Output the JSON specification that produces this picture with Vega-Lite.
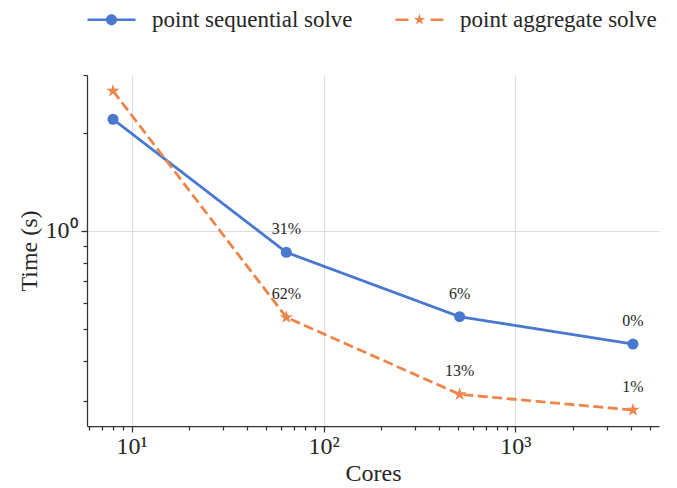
{
  "$schema": "https://vega.github.io/schema/vega-lite/v6.json",
  "width": 572,
  "height": 351,
  "autosize": "none",
  "padding": {"left": 87, "top": 75, "right": 18, "bottom": 62},
  "background": "white",
  "config": {
    "view": {"stroke": null},
    "font": "Liberation Serif",
    "axis": {
      "labelFont": "Liberation Serif",
      "titleFont": "Liberation Serif",
      "labelFontSize": 24,
      "titleFontSize": 24,
      "titleFontWeight": "normal",
      "labelColor": "#262626",
      "titleColor": "#262626",
      "domainColor": "#333333",
      "tickColor": "#333333",
      "gridColor": "#dddddd",
      "gridWidth": 1,
      "domainWidth": 1.25,
      "tickWidth": 1.25
    },
    "legend": {
      "orient": "none",
      "legendX": 13,
      "legendY": -67,
      "direction": "horizontal",
      "columns": 2,
      "title": null,
      "labelFont": "Liberation Serif",
      "labelFontSize": 23,
      "labelColor": "#262626",
      "labelLimit": 500,
      "symbolSize": 100,
      "symbolOpacity": 1,
      "labelOffset": 29,
      "columnPadding": 39,
      "padding": 0
    }
  },
  "data": {
    "values": [
      {"series": "point sequential solve", "cores": 8, "time": 2.201, "label": ""},
      {"series": "point sequential solve", "cores": 64, "time": 0.860, "label": "31%"},
      {"series": "point sequential solve", "cores": 512, "time": 0.5458, "label": "6%"},
      {"series": "point sequential solve", "cores": 4096, "time": 0.450, "label": "0%"},
      {"series": "point aggregate solve", "cores": 8, "time": 2.688, "label": ""},
      {"series": "point aggregate solve", "cores": 64, "time": 0.5435, "label": "62%"},
      {"series": "point aggregate solve", "cores": 512, "time": 0.3155, "label": "13%"},
      {"series": "point aggregate solve", "cores": 4096, "time": 0.2824, "label": "1%"}
    ]
  },
  "layer": [
    {
      "mark": {"type": "line", "strokeWidth": 2.8},
      "encoding": {
        "x": {
          "field": "cores", "type": "quantitative",
          "scale": {"type": "log", "domain": [5.856, 5597], "nice": false},
          "axis": {"orient": "bottom", "values": [6, 7, 8, 9, 20, 30, 40, 50, 60, 70, 80, 90, 200, 300, 400, 500, 600, 700, 800, 900, 2000, 3000, 4000, 5000], "labels": false, "grid": false, "domain": false, "tickSize": 4, "title": null}
        },
        "y": {
          "field": "time", "type": "quantitative",
          "scale": {"type": "log", "domain": [0.2523, 3.008], "nice": false},
          "axis": {"orient": "left", "values": [0.3, 0.4, 0.5, 0.6, 0.7, 0.8, 0.9, 2, 3], "labels": false, "grid": false, "domain": false, "tickSize": 4, "title": null}
        },
        "color": {"field": "series", "type": "nominal", "scale": {"domain": ["point sequential solve", "point aggregate solve"], "range": ["#4878d0", "#ee854a"]}, "legend": null},
        "strokeDash": {"field": "series", "type": "nominal", "scale": {"domain": ["point sequential solve", "point aggregate solve"], "range": [[1, 0], [10, 4.5]]}, "legend": null}
      }
    },
    {
      "transform": [{"filter": "datum.series == 'point sequential solve'"}],
      "mark": {"type": "point", "filled": true, "size": 121, "opacity": 1, "shape": "circle"},
      "encoding": {
        "x": {
          "field": "cores", "type": "quantitative",
          "scale": {"type": "log", "domain": [5.856, 5597], "nice": false},
          "axis": {"orient": "bottom", "values": [10, 100, 1000], "labelExpr": "datum.value == 10 ? '10¹' : datum.value == 100 ? '10²' : '10³'", "grid": true, "tickSize": 6, "title": "Cores", "labelPadding": 2, "titlePadding": 3}
        },
        "y": {
          "field": "time", "type": "quantitative",
          "scale": {"type": "log", "domain": [0.2523, 3.008], "nice": false},
          "axis": {"orient": "left", "values": [1], "labelExpr": "'10⁰'", "grid": true, "tickSize": 6, "title": "Time (s)", "labelPadding": 4, "titlePadding": 4}
        },
        "color": {"field": "series", "type": "nominal", "legend": null}
      }
    },
    {
      "transform": [{"filter": "datum.series == 'point aggregate solve'"}],
      "mark": {"type": "point", "filled": true, "size": 150, "opacity": 1, "shape": "M0,-1.15L0.259,-0.356L1.094,-0.355L0.418,0.136L0.676,0.93L0,0.44L-0.676,0.93L-0.418,0.136L-1.094,-0.355L-0.259,-0.356Z"},
      "encoding": {
        "x": {"field": "cores", "type": "quantitative", "axis": null},
        "y": {"field": "time", "type": "quantitative", "axis": null},
        "color": {"field": "series", "type": "nominal", "legend": null}
      }
    },
    {
      "mark": {"type": "point", "filled": true, "opacity": 0, "size": 100},
      "encoding": {
        "x": {"field": "cores", "type": "quantitative", "axis": null},
        "y": {"field": "time", "type": "quantitative", "axis": null},
        "fill": {"field": "series", "type": "nominal", "scale": {"domain": ["point sequential solve", "point aggregate solve"], "range": ["#4878d0", "#ee854a"]}, "legend": {"symbolOpacity": 1}},
        "shape": {"field": "series", "type": "nominal", "scale": {"domain": ["point sequential solve", "point aggregate solve"], "range": ["M-4.8,-0.25H-1V0.25H-4.8ZM1,-0.25H4.8V0.25H1ZM1.1,0A1.1,1.1,0,1,1,-1.1,0A1.1,1.1,0,1,1,1.1,0Z", "M-4.8,-0.25H-2.2V0.25H-4.8ZM2.2,-0.25H4.8V0.25H2.2ZM0,-1.2L0.27,-0.372L1.141,-0.371L0.436,0.142L0.705,0.971L0,0.459L-0.705,0.971L-0.436,0.142L-1.141,-0.371L-0.27,-0.372Z"]}, "legend": {"symbolOpacity": 1}}
      }
    },
    {
      "mark": {"type": "text", "dy": -23, "fontSize": 16, "font": "Liberation Serif", "color": "#262626", "baseline": "middle"},
      "encoding": {
        "x": {"field": "cores", "type": "quantitative", "axis": null},
        "y": {"field": "time", "type": "quantitative", "axis": null},
        "text": {"field": "label"}
      }
    }
  ],
  "resolve": {
    "scale": {"shape": "independent", "fill": "independent"},
    "axis": {"x": "independent", "y": "independent"}
  }
}
